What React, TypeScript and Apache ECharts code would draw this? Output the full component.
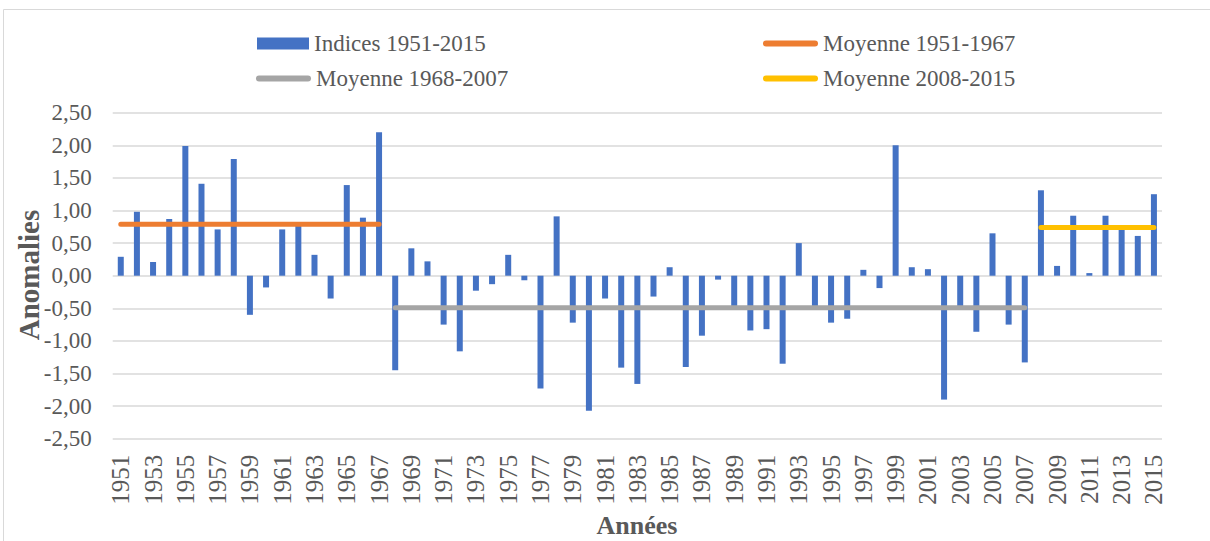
import React, { useEffect, useRef } from "react";
import * as echarts from "echarts";

const years: string[] = Array.from({ length: 65 }, (_, i) => String(1951 + i));

const indices: number[] = [
  0.29, 0.98, 0.21, 0.87, 1.99, 1.41, 0.71, 1.79, -0.6, -0.18,
  0.71, 0.78, 0.32, -0.35, 1.39, 0.89, 2.2,
  -1.45, 0.42, 0.22, -0.75, -1.16, -0.23, -0.13, 0.32, -0.07,
  -1.73, 0.91, -0.72, -2.07, -0.35, -1.41, -1.66, -0.32, 0.13, -1.4,
  -0.92, -0.06, -0.48, -0.84, -0.82, -1.35, 0.5, -0.48, -0.72, -0.66,
  0.09, -0.19, 2.0, 0.13, 0.1, -1.9, -0.48, -0.86, 0.65, -0.75, -1.33,
  1.31, 0.15, 0.92, 0.04, 0.92, 0.72, 0.61, 1.25,
];

const mean1 = { name: "Moyenne 1951-1967", from: 1951, to: 1967, value: 0.79 };
const mean2 = { name: "Moyenne 1968-2007", from: 1968, to: 2007, value: -0.49 };
const mean3 = { name: "Moyenne 2008-2015", from: 2008, to: 2015, value: 0.74 };

const yTicks = { min: -2.5, max: 2.5, interval: 0.5 };

const FONT = "Liberation Serif";
const TXT = "#595959";

const CAPSULE = "path://M3,0 L52,0 A3,3 0 0 1 52,6 L3,6 A3,3 0 0 1 3,0 Z";

function meanData(m: { from: number; to: number; value: number }) {
  return years.map((y) => {
    const n = Number(y);
    return n >= m.from && n <= m.to ? m.value : null;
  });
}

export default function App() {
  const ref = useRef<HTMLDivElement>(null);
  useEffect(() => {
    if (!ref.current) return;
    const chart = echarts.init(ref.current, null, { renderer: "svg" });
    const legendBase = {
      orient: "horizontal",
      padding: 0,
      itemGap: 5,
      textStyle: { fontFamily: FONT, fontSize: 23, color: TXT },
    };
    const lineLegend = (name: string, left: number, top: number) => ({
      ...legendBase,
      data: [{ name, icon: CAPSULE }],
      itemWidth: 55,
      itemHeight: 6,
      left,
      top,
    });
    const lineSeries = (m: any, color: string) => ({
      name: m.name,
      type: "line",
      data: meanData(m),
      symbol: "none",
      connectNulls: false,
      lineStyle: { color, width: 5, cap: "round" },
      itemStyle: { color },
      z: 5,
    });
    chart.setOption({
      animation: false,
      backgroundColor: "#ffffff",
      textStyle: { fontFamily: FONT },
      graphic: [
        {
          type: "rect",
          shape: { x: 3.5, y: 9.5, width: 1300, height: 700 },
          style: { fill: "none", stroke: "#d9d9d9", lineWidth: 1 },
          silent: true,
          z: -10,
        },
        {
          type: "text",
          x: 29,
          y: 275,
          rotation: Math.PI / 2,
          style: {
            text: "Anomalies",
            fontFamily: FONT,
            fontSize: 29,
            fontWeight: "bold",
            fill: TXT,
            align: "center",
            verticalAlign: "middle",
          },
        },
        {
          type: "text",
          x: 637,
          y: 525,
          style: {
            text: "Années",
            fontFamily: FONT,
            fontSize: 26,
            fontWeight: "bold",
            fill: TXT,
            align: "center",
            verticalAlign: "middle",
          },
        },
      ],
      legend: [
        {
          ...legendBase,
          data: [{ name: "Indices 1951-2015", icon: "rect" }],
          itemWidth: 52,
          itemHeight: 12,
          left: 257,
          top: 32,
        },
        lineLegend(mean1.name, 763, 32),
        lineLegend(mean2.name, 256, 67),
        lineLegend(mean3.name, 763, 67),
      ],
      grid: { left: 112.7, right: 48, top: 112.7, bottom: 102.3, containLabel: false },
      xAxis: {
        type: "category",
        data: years,
        boundaryGap: true,
        axisLine: { show: false, onZero: false },
        axisTick: { show: false },
        axisLabel: {
          interval: 1,
          rotate: 90,
          margin: 16,
          fontFamily: FONT,
          fontSize: 25,
          color: TXT,
        },
        splitLine: { show: false },
      },
      yAxis: {
        type: "value",
        min: yTicks.min,
        max: yTicks.max,
        interval: yTicks.interval,
        axisLine: { show: false },
        axisTick: { show: false },
        axisLabel: {
          margin: 21,
          fontFamily: FONT,
          fontSize: 23,
          color: TXT,
          formatter: (v: number) => v.toFixed(2).replace(".", ","),
        },
        splitLine: { lineStyle: { color: "#d9d9d9", width: 1.5 } },
      },
      series: [
        {
          name: "Indices 1951-2015",
          type: "bar",
          data: indices,
          barWidth: 6,
          itemStyle: { color: "#4472C4" },
          z: 2,
        },
        lineSeries(mean1, "#ED7D31"),
        lineSeries(mean2, "#A5A5A5"),
        lineSeries(mean3, "#FFC000"),
      ],
    });
    return () => chart.dispose();
  }, []);
  return (
    <div
      ref={ref}
      style={{ position: "absolute", left: 0, top: 0, width: 1210, height: 541 }}
    />
  );
}
